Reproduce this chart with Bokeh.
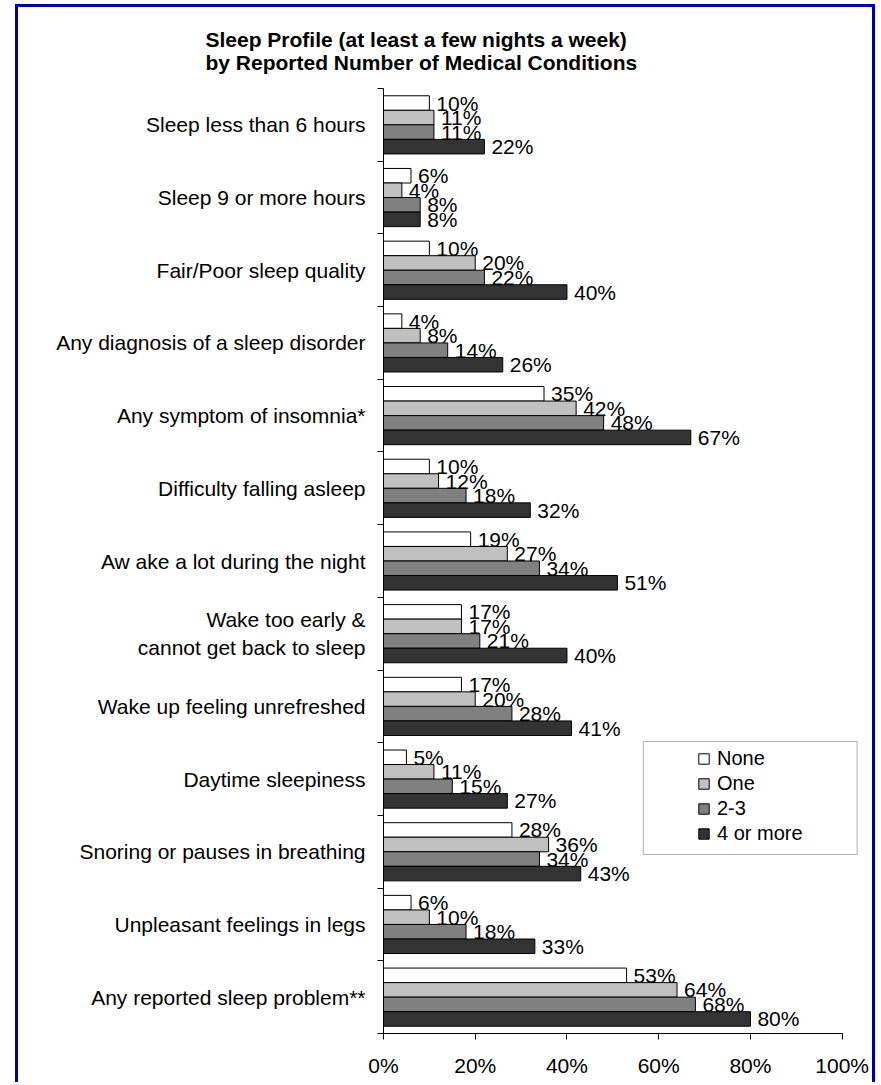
from bokeh.plotting import figure
from bokeh.models import (Range1d, FixedTicker, PrintfTickFormatter,
                          BoxAnnotation, Legend, LegendItem, ColumnDataSource)
from bokeh.core.properties import value
from bokeh.embed import file_html
from bokeh.resources import INLINE

# ---------------- data ----------------
categories = [
    "Sleep less than 6 hours",
    "Sleep 9 or more hours",
    "Fair/Poor sleep quality",
    "Any diagnosis of a sleep disorder",
    "Any symptom of insomnia*",
    "Difficulty falling asleep",
    "Aw ake a lot during the night",
    "Wake too early &\ncannot get back to sleep",
    "Wake up feeling unrefreshed",
    "Daytime sleepiness",
    "Snoring or pauses in breathing",
    "Unpleasant feelings in legs",
    "Any reported sleep problem**",
]
none_vals = [10, 6, 10, 4, 35, 10, 19, 17, 17, 5, 28, 6, 53]
one_vals = [11, 4, 20, 8, 42, 12, 27, 17, 20, 11, 36, 10, 64]
two_three_vals = [11, 8, 22, 14, 48, 18, 34, 21, 28, 15, 34, 18, 68]
four_plus_vals = [22, 8, 40, 26, 67, 32, 51, 40, 41, 27, 43, 33, 80]
series_names = ["None", "One", "2-3", "4 or more"]
series_colors = ["#FFFFFF", "#C0C0C0", "#808080", "#333333"]
x_ticks = [0, 20, 40, 60, 80, 100]
title_text = ("Sleep Profile (at least a few nights a week)\n"
              "by Reported Number of Medical Conditions")

FONT = "Liberation Sans"
n = len(categories)

p = figure(width=860, height=1078, output_backend="svg", toolbar_location=None,
           x_range=Range1d(0, 104), y_range=Range1d(0, n),
           min_border_left=365, min_border_right=18,
           min_border_top=81, min_border_bottom=52)
p.styles = {"margin-left": "15px", "margin-top": "4px",
            "border-style": "solid", "border-color": "#0000A8",
            "border-width": "3px 3px 0px 3px"}
p.outline_line_color = None
p.xgrid.visible = False
p.ygrid.visible = False
p.background_fill_color = "white"
p.border_fill_color = "white"

# ---------------- title ----------------
p.title.text = title_text
p.title.align = "left"
p.title.offset = -178
p.title.text_font = FONT
p.title.text_font_style = "bold"
p.title.text_font_size = "21px"
p.title.text_line_height = 1.0
p.title.text_color = "black"
p.title.standoff = 29

# ---------------- bars ----------------
centers = [n - 0.5 - i for i in range(n)]
all_series = [none_vals, one_vals, two_three_vals, four_plus_vals]
renderers = []
for j, (name, vals, col) in enumerate(zip(series_names, all_series, series_colors)):
    ys = [c + 0.3 - 0.2 * j for c in centers]
    src = ColumnDataSource(dict(y=ys, v=vals))
    r = p.hbar(y="y", left=0, right="v", height=0.2, source=src,
               fill_color=col, line_color="black", line_width=1)
    renderers.append(r)
for j, vals in enumerate(all_series):
    ys = [c + 0.3 - 0.2 * j for c in centers]
    src = ColumnDataSource(dict(y=ys, v=vals, lab=[f"{v}%" for v in vals]))
    p.text(x="v", y="y", text="lab", source=src, x_offset=7,
           text_baseline="middle", text_align="left",
           text_font=value(FONT), text_font_size="21px", text_color="black")

# ---------------- axes ----------------
xa = p.xaxis[0]
xa.bounds = (0, 100)
xa.ticker = FixedTicker(ticks=x_ticks)
xa.formatter = PrintfTickFormatter(format="%d%%")
xa.major_tick_out = 6
xa.major_tick_in = 0
xa.minor_tick_line_color = None
xa.axis_line_color = "black"
xa.major_tick_line_color = "black"
xa.major_label_text_font = FONT
xa.major_label_text_font_size = "21px"
xa.major_label_text_color = "black"
xa.major_label_standoff = 14

ya = p.yaxis[0]
ya.ticker = FixedTicker(ticks=centers, minor_ticks=list(range(n + 1)))
ya.major_label_overrides = {c: cat for c, cat in zip(centers, categories)}
ya.major_tick_line_color = None
ya.major_tick_out = 0
ya.major_tick_in = 0
ya.minor_tick_line_color = "black"
ya.minor_tick_out = 6
ya.minor_tick_in = 0
ya.axis_line_color = "black"
ya.major_label_text_font = FONT
ya.major_label_text_font_size = "21px"
ya.major_label_text_color = "black"
ya.major_label_standoff = 12

# ---------------- legend ----------------
p.add_layout(BoxAnnotation(left=56.64, right=103.27, top=4.017, bottom=2.462,
                           fill_color="white", fill_alpha=1,
                           line_color="black", line_width=1))
legend = Legend(items=[LegendItem(label=nm, renderers=[r]) for nm, r in zip(series_names, renderers)],
                location=(314, 188), orientation="vertical",
                glyph_width=13, glyph_height=13, label_standoff=7,
                spacing=2, padding=0, margin=0, label_height=23,
                border_line_color=None, background_fill_alpha=0,
                label_text_font=FONT, label_text_font_size="20px",
                label_text_color="black")
p.add_layout(legend)

open("out.html", "w").write(file_html(p, INLINE))
